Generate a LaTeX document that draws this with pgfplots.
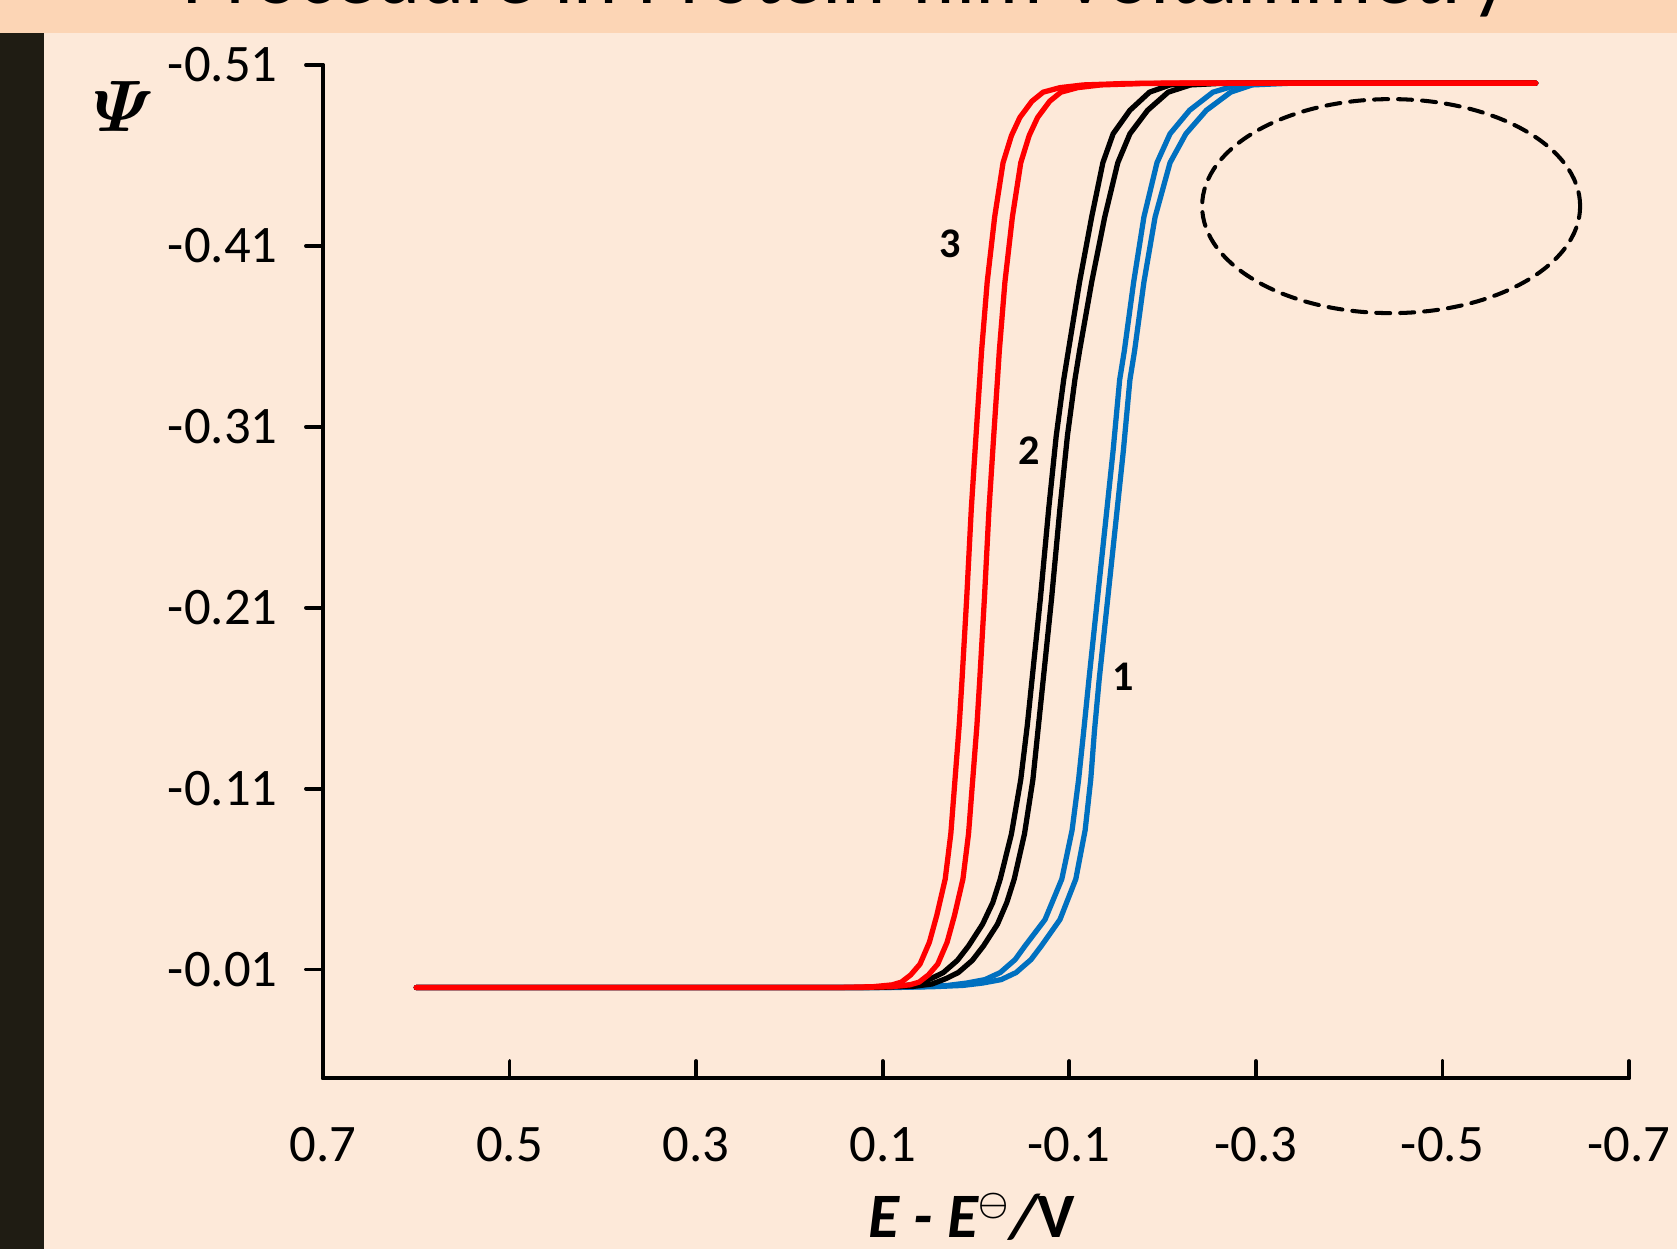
\documentclass[border=0pt]{standalone}
\usepackage{fontspec}
\setmainfont{Carlito}
\usepackage{amsmath}
\usepackage{amssymb}
\usepackage{pgfplots}
\pgfplotsset{compat=1.18}
\definecolor{slidebg}{HTML}{FDE9D9}
\definecolor{titlebar}{HTML}{FCD5B5}
\definecolor{sidebar}{HTML}{1F1C13}
\definecolor{cvblue}{HTML}{0070C0}
\definecolor{cvred}{HTML}{FF0000}

\begin{document}
\begin{tikzpicture}
\useasboundingbox (0,0) rectangle (16.77,12.49);
\clip (0,0) rectangle (16.77,12.49);
\fill[slidebg] (0,0) rectangle (16.77,12.49);
\fill[titlebar] (0,12.16) rectangle (16.77,12.49);
\fill[sidebar] (0,0) rectangle (0.44,12.16);
\node[anchor=base west, inner sep=0, font=\fontsize{24}{28}\selectfont] at (1.82,12.45) {Procedure in Protein-film Voltammetry};

\begin{axis}[
    at={(3.23cm,1.71cm)}, anchor=south west,
    scale only axis,
    width=13.06cm, height=10.13cm,
    x dir=reverse, y dir=reverse,
    xmin=-0.7, xmax=0.7,
    ymin=-0.51, ymax=0.05,
    axis x line*=bottom, axis y line*=left,
    axis line style={-, line width=1.1pt, black},
    xtick={0.7,0.5,0.3,0.1,-0.1,-0.3,-0.5,-0.7},
    xticklabels={0.7,0.5,0.3,0.1,-0.1,-0.3,-0.5,-0.7},
    ytick={-0.51,-0.41,-0.31,-0.21,-0.11,-0.01},
    yticklabels={-0.51,-0.41,-0.31,-0.21,-0.11,-0.01},
    xtick align=inside, ytick align=outside,
    major tick length=0.17cm,
    tick style={line width=1.1pt, black},
    ticklabel style={font=\fontsize{15}{17}\selectfont},
    xticklabel style={yshift=-0.37cm},
    yticklabel style={anchor=east, xshift=-0.16cm},
    line cap=round, line join=round,
]
% curve 1 (blue)
\addplot[cvblue, line width=1.5pt] coordinates {
(0.6,0) (0.3,0) (0.1,0) (0.06,-0.0005) (0.03,-0.0012) (0.01,-0.0025) (-0.0096,-0.0044)
(-0.026,-0.0083) (-0.042,-0.0155) (-0.0525,-0.023) (-0.074,-0.0376) (-0.092,-0.060)
(-0.103,-0.087) (-0.110,-0.115) (-0.1155,-0.142) (-0.121,-0.170) (-0.130,-0.214)
(-0.138,-0.253) (-0.147,-0.297) (-0.154,-0.336) (-0.159,-0.352) (-0.169,-0.390)
(-0.180,-0.426) (-0.194,-0.456) (-0.208,-0.472) (-0.229,-0.485) (-0.254,-0.495)
(-0.280,-0.499) (-0.32,-0.5) (-0.6,-0.5)};
\addplot[cvblue, line width=1.5pt] coordinates {
(0.6,0) (0.3,0) (0.09,0) (0.045,-0.0005) (0.014,-0.0012) (-0.007,-0.0025) (-0.027,-0.0044)
(-0.043,-0.0083) (-0.059,-0.0155) (-0.070,-0.023) (-0.090,-0.0376) (-0.107,-0.060)
(-0.117,-0.087) (-0.123,-0.115) (-0.127,-0.142) (-0.132,-0.170) (-0.141,-0.214)
(-0.149,-0.253) (-0.158,-0.297) (-0.165,-0.336) (-0.170,-0.352) (-0.180,-0.390)
(-0.192,-0.426) (-0.208,-0.456) (-0.225,-0.472) (-0.247,-0.485) (-0.273,-0.495)
(-0.296,-0.499) (-0.34,-0.5) (-0.6,-0.5)};
% curve 2 (black)
\addplot[black, line width=1.5pt] coordinates {
(0.6,0) (0.3,0) (0.12,0) (0.08,-0.0008) (0.063,-0.002) (0.048,-0.005) (0.035,-0.0083)
(0.020,-0.015) (0.008,-0.023) (-0.007,-0.035) (-0.018,-0.047) (-0.026,-0.060)
(-0.038,-0.085) (-0.048,-0.115) (-0.055,-0.145) (-0.060,-0.170) (-0.069,-0.215)
(-0.078,-0.265) (-0.086,-0.305) (-0.094,-0.336) (-0.099,-0.352) (-0.111,-0.390)
(-0.124,-0.426) (-0.136,-0.456) (-0.147,-0.472) (-0.165,-0.485) (-0.186,-0.495)
(-0.208,-0.499) (-0.24,-0.4998) (-0.27,-0.5) (-0.6,-0.5)};
\addplot[black, line width=1.5pt] coordinates {
(0.6,0) (0.3,0) (0.11,0) (0.065,-0.0008) (0.047,-0.002) (0.032,-0.005) (0.019,-0.0083)
(0.004,-0.015) (-0.008,-0.023) (-0.023,-0.035) (-0.033,-0.047) (-0.041,-0.060)
(-0.052,-0.085) (-0.061,-0.115) (-0.067,-0.145) (-0.072,-0.170) (-0.081,-0.215)
(-0.090,-0.265) (-0.098,-0.305) (-0.106,-0.336) (-0.111,-0.352) (-0.124,-0.390)
(-0.138,-0.426) (-0.152,-0.456) (-0.165,-0.472) (-0.184,-0.485) (-0.206,-0.495)
(-0.230,-0.499) (-0.26,-0.4998) (-0.29,-0.5) (-0.6,-0.5)};
% curve 3 (red)
\addplot[cvred, line width=1.5pt] coordinates {
(0.6,0) (0.3,0) (0.15,0) (0.11,-0.0005) (0.09,-0.0015) (0.08,-0.003) (0.07,-0.007)
(0.06,-0.013) (0.05,-0.025) (0.042,-0.040) (0.033,-0.060) (0.027,-0.085) (0.0225,-0.115)
(0.018,-0.145) (0.015,-0.170) (0.010,-0.215) (0.005,-0.265) (0.000,-0.305) (-0.004,-0.336)
(-0.006,-0.352) (-0.012,-0.390) (-0.020,-0.426) (-0.029,-0.456) (-0.038,-0.471)
(-0.047,-0.481) (-0.060,-0.490) (-0.072,-0.495) (-0.09,-0.4975) (-0.115,-0.499)
(-0.16,-0.4998) (-0.2,-0.5) (-0.6,-0.5)};
\addplot[cvred, line width=1.5pt] coordinates {
(0.6,0) (0.3,0) (0.13,0) (0.09,-0.0005) (0.071,-0.0015) (0.061,-0.003) (0.051,-0.007)
(0.041,-0.013) (0.031,-0.025) (0.023,-0.040) (0.014,-0.060) (0.008,-0.085) (0.0035,-0.115)
(-0.001,-0.145) (-0.004,-0.170) (-0.009,-0.215) (-0.014,-0.265) (-0.019,-0.305)
(-0.023,-0.336) (-0.025,-0.352) (-0.031,-0.390) (-0.039,-0.426) (-0.048,-0.456)
(-0.057,-0.471) (-0.066,-0.481) (-0.079,-0.490) (-0.091,-0.495) (-0.109,-0.4975)
(-0.134,-0.499) (-0.18,-0.4998) (-0.22,-0.5) (-0.6,-0.5)};

\node[font=\fontsize{12}{14}\selectfont\bfseries] at (axis cs:0.028,-0.411) {3};
\node[font=\fontsize{12}{14}\selectfont\bfseries] at (axis cs:-0.057,-0.297) {2};
\node[font=\fontsize{12}{14}\selectfont\bfseries] at (axis cs:-0.1575,-0.172) {1};
\draw[black, line width=1.15pt, dash pattern=on 0.14cm off 0.1cm]
  (axis cs:-0.445,-0.432) ellipse [x radius=1.89cm, y radius=1.07cm];
\end{axis}

\node[font=\fontsize{21}{24}\selectfont] at (1.24,11.43) {$\boldsymbol{\varPsi}$};
\node[anchor=base, font=\fontsize{18}{22}\selectfont\bfseries\itshape] at (9.72,0.12)
  {E - E\textsuperscript{\scalebox{0.8}{$\boldsymbol{\ominus}$}}/{\upshape V}};
\end{tikzpicture}
\end{document}
